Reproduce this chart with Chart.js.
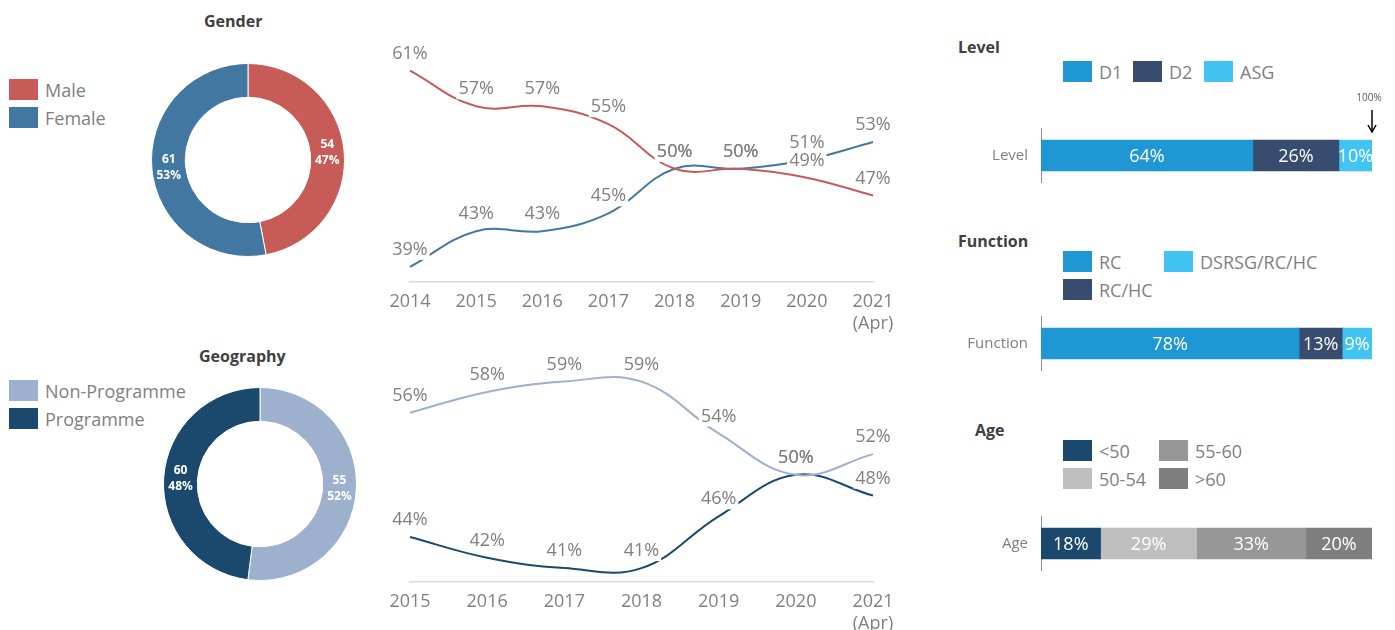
<!DOCTYPE html>
<html>
<head>
<meta charset="utf-8">
<script src="https://cdn.jsdelivr.net/npm/chart.js@4.4.0/dist/chart.umd.min.js"></script>
<style>
  body { margin: 0; background: #fff; font-family: "Open Sans", sans-serif; }
  #page { position: relative; width: 1395px; height: 630px; overflow: hidden; }
  canvas { position: absolute; }
  .title { position: absolute; font-weight: bold; font-size: 16px; color: #404040; line-height: 22px; white-space: nowrap; }
  .legend { position: absolute; display: grid; color: #7f7f7f; font-size: 18px; }
  .legend .item { display: flex; align-items: center; height: 21px; white-space: nowrap; }
  .legend .box { width: 29px; height: 21px; margin-right: 7px; flex: none; }
</style>
</head>
<body>
<div id="page">
  <div class="title" style="left:204px; top:10px;">Gender</div>
  <div class="title" style="left:199px; top:345px;">Geography</div>
  <div class="title" style="left:958px; top:36px;">Level</div>
  <div class="title" style="left:958px; top:230px;">Function</div>
  <div class="title" style="left:975px; top:419px;">Age</div>

  <div id="genderLegend" class="legend" style="left:9px; top:79px; grid-auto-rows:21px; row-gap:7px;"></div>
  <div id="geoLegend" class="legend" style="left:9px; top:380px; grid-auto-rows:21px; row-gap:7px;"></div>
  <div id="levelLegend" class="legend" style="left:1063px; top:61px; grid-template-columns:70px 71px 80px;"></div>
  <div id="functionLegend" class="legend" style="left:1063px; top:251px; grid-template-rows:21px 21px; row-gap:7px; grid-auto-flow:column; grid-auto-columns:101px;"></div>
  <div id="ageLegend" class="legend" style="left:1063px; top:440px; grid-template-rows:21px 21px; row-gap:7px; grid-auto-flow:column; grid-auto-columns:96px;"></div>

  <canvas id="genderDonut" width="194" height="194" style="left:151px; top:63px; width:194px; height:194px;"></canvas>
  <canvas id="geoDonut" width="194" height="194" style="left:163px; top:387px; width:194px; height:194px;"></canvas>
  <canvas id="genderLine" width="560" height="330" style="left:370px; top:20px; width:560px; height:330px;"></canvas>
  <canvas id="geoLine" width="560" height="310" style="left:370px; top:340px; width:560px; height:310px;"></canvas>
  <canvas id="levelBar" width="435" height="93" style="left:960px; top:90px; width:435px; height:93px;"></canvas>
  <canvas id="functionBar" width="435" height="55" style="left:960px; top:316px; width:435px; height:55px;"></canvas>
  <canvas id="ageBar" width="435" height="55" style="left:960px; top:516px; width:435px; height:55px;"></canvas>
</div>
<script>
// gender
const genderLabels = ["Male", "Female"];
const genderCounts = [54, 61];
const genderPct = [47, 53];
const genderColors = ["#C65B57", "#4277A2"];

const genderYears = ["2014", "2015", "2016", "2017", "2018", "2019", "2020", ["2021", "(Apr)"]];
const maleShare = [61, 57, 57, 55, 50, 50, 49, 47];
const femaleShare = [39, 43, 43, 45, 50, 50, 51, 53];

// geography
const geoLabels = ["Non-Programme", "Programme"];
const geoCounts = [55, 60];
const geoPct = [52, 48];
const geoColors = ["#9DB1CE", "#1B496D"];

const geoYears = ["2015", "2016", "2017", "2018", "2019", "2020", ["2021", "(Apr)"]];
const nonProgShare = [56, 58, 59, 59, 54, 50, 52];
const progShare = [44, 42, 41, 41, 46, 50, 48];

// stacked bars
const levelLabels = ["D1", "D2", "ASG"];
const levelValues = [64, 26, 10];
const levelColors = ["#1F97D4", "#374C6E", "#41C4F2"];

const functionLabels = ["RC", "RC/HC", "DSRSG/RC/HC"];
const functionValues = [78, 13, 9];
const functionColors = ["#1F97D4", "#374C6E", "#41C4F2"];

const ageLabels = ["<50", "50-54", "55-60", ">60"];
const ageValues = [18, 29, 33, 20];
const ageColors = ["#1B496D", "#BFBFBF", "#979797", "#7F7F7F"];

Chart.defaults.font.family = "'Open Sans', sans-serif";
Chart.defaults.animation = false;
Chart.defaults.events = [];

function buildLegend(id, labels, colors) {
  const el = document.getElementById(id);
  labels.forEach((l, i) => {
    const item = document.createElement("div");
    item.className = "item";
    const box = document.createElement("span");
    box.className = "box";
    box.style.background = colors[i];
    const txt = document.createElement("span");
    txt.textContent = l;
    item.appendChild(box);
    item.appendChild(txt);
    el.appendChild(item);
  });
}
buildLegend("genderLegend", genderLabels, genderColors);
buildLegend("geoLegend", geoLabels, geoColors);
buildLegend("levelLegend", levelLabels, levelColors);
buildLegend("functionLegend", functionLabels, functionColors);
buildLegend("ageLegend", ageLabels, ageColors);

// labels inside donut ring: count + percent
const donutLabels = {
  id: "donutLabels",
  afterDatasetsDraw(chart, args, opts) {
    const ctx = chart.ctx;
    const meta = chart.getDatasetMeta(0);
    ctx.save();
    ctx.fillStyle = "#fff";
    ctx.font = "bold 12px 'Open Sans'";
    ctx.textAlign = "center";
    ctx.textBaseline = "middle";
    meta.data.forEach((arc, i) => {
      const p = arc.tooltipPosition();
      ctx.fillText(String(opts.counts[i]), p.x, p.y - 8);
      ctx.fillText(chart.data.datasets[0].data[i] + "%", p.x, p.y + 8);
    });
    ctx.restore();
  }
};

function donut(id, labels, counts, pct, colors) {
  new Chart(document.getElementById(id), {
    type: "doughnut",
    data: { labels: labels, datasets: [{ data: pct, backgroundColor: colors, borderColor: "#fff", borderWidth: 1 }] },
    options: {
      responsive: false,
      maintainAspectRatio: false,
      cutout: "65%",
      layout: { padding: 0 },
      plugins: { legend: { display: false }, tooltip: { enabled: false }, donutLabels: { counts: counts } }
    },
    plugins: [donutLabels]
  });
}
donut("genderDonut", genderLabels, genderCounts, genderPct, genderColors);
donut("geoDonut", geoLabels, geoCounts, geoPct, geoColors);

// percent labels above line points, on white boxes
const pointLabels = {
  id: "pointLabels",
  afterDatasetsDraw(chart) {
    const ctx = chart.ctx;
    ctx.save();
    ctx.font = "18px 'Open Sans'";
    ctx.textAlign = "center";
    ctx.textBaseline = "middle";
    const items = [];
    chart.data.datasets.forEach((ds, di) => {
      chart.getDatasetMeta(di).data.forEach((pt, i) => {
        items.push({ x: pt.x, y: pt.y - 17, t: ds.data[i] + "%" });
      });
    });
    ctx.fillStyle = "#fff";
    items.forEach(it => {
      const w = ctx.measureText(it.t).width;
      ctx.fillRect(it.x - w / 2 - 2, it.y - 10, w + 4, 20);
    });
    ctx.fillStyle = "#808080";
    items.forEach(it => ctx.fillText(it.t, it.x, it.y));
    ctx.restore();
  }
};

function lineChart(id, years, series, colors, yMin, yMax, padTop) {
  new Chart(document.getElementById(id), {
    type: "line",
    data: {
      labels: years,
      datasets: series.map((s, i) => ({
        data: s, borderColor: colors[i], borderWidth: 2, pointRadius: 0, tension: 0.4, fill: false
      }))
    },
    options: {
      responsive: false,
      maintainAspectRatio: false,
      layout: { padding: { left: 40, right: 57, top: padTop, bottom: 8 } },
      plugins: { legend: { display: false }, tooltip: { enabled: false } },
      scales: {
        x: {
          offset: false,
          grid: { display: false },
          border: { display: true, color: "#D9D9D9", width: 1.5 },
          ticks: { color: "#808080", font: { size: 18 }, padding: 1, maxRotation: 0, autoSkip: false },
          afterFit(scale) { scale.height = 60; }
        },
        y: { display: false, min: yMin, max: yMax }
      }
    },
    plugins: [pointLabels]
  });
}
lineChart("genderLine", genderYears, [maleShare, femaleShare], genderColors, 37.3, 65.56, 10);
lineChart("geoLine", geoYears, [nonProgShare, progShare], geoColors, 39.66, 60.6, 25);

// white value labels inside stacked bar segments
const barLabels = {
  id: "barLabels",
  afterDatasetsDraw(chart) {
    const ctx = chart.ctx;
    ctx.save();
    ctx.font = "18px 'Open Sans'";
    ctx.fillStyle = "#fff";
    ctx.textAlign = "center";
    ctx.textBaseline = "middle";
    chart.data.datasets.forEach((ds, di) => {
      chart.getDatasetMeta(di).data.forEach((bar, i) => {
        ctx.fillText(ds.data[i] + "%", (bar.x + bar.base) / 2, bar.y + 1);
      });
    });
    ctx.restore();
  }
};

// "100%" marker with arrow at the end of the level bar
const fullMark = {
  id: "fullMark",
  afterDraw(chart) {
    const ctx = chart.ctx;
    const x = chart.scales.x.getPixelForValue(100);
    ctx.save();
    ctx.fillStyle = "#595959";
    ctx.font = "10px 'Open Sans'";
    ctx.textAlign = "center";
    ctx.textBaseline = "middle";
    ctx.fillText("100%", x - 3, 8);
    ctx.strokeStyle = "#000";
    ctx.lineWidth = 1.5;
    ctx.beginPath();
    ctx.moveTo(x, 20);
    ctx.lineTo(x, 41);
    ctx.stroke();
    ctx.beginPath();
    ctx.moveTo(x - 4, 35);
    ctx.lineTo(x, 42);
    ctx.lineTo(x + 4, 35);
    ctx.stroke();
    ctx.restore();
  }
};

function stackBar(id, cat, labels, values, colors, padTop, extra) {
  new Chart(document.getElementById(id), {
    type: "bar",
    data: {
      labels: [cat],
      datasets: labels.map((l, i) => ({
        label: l, data: [values[i]], backgroundColor: colors[i], barThickness: 31
      }))
    },
    options: {
      indexAxis: "y",
      responsive: false,
      maintainAspectRatio: false,
      layout: { padding: { left: 0, right: 23, top: padTop, bottom: 0 } },
      plugins: { legend: { display: false }, tooltip: { enabled: false } },
      scales: {
        x: { stacked: true, display: false, min: 0, max: 100 },
        y: {
          stacked: true,
          grid: { display: false },
          border: { display: true, color: "#8C8C8C", width: 1 },
          ticks: { color: "#7f7f7f", font: { size: 15 }, padding: 5 },
          afterFit(scale) {
            scale.width = 81;
            scale.paddingTop = 0;
            scale.paddingBottom = 0;
          }
        }
      }
    },
    plugins: extra ? [barLabels, extra] : [barLabels]
  });
}
stackBar("levelBar", "Level", levelLabels, levelValues, levelColors, 38, fullMark);
stackBar("functionBar", "Function", functionLabels, functionValues, functionColors, 0);
stackBar("ageBar", "Age", ageLabels, ageValues, ageColors, 0);
</script>
</body>
</html>
